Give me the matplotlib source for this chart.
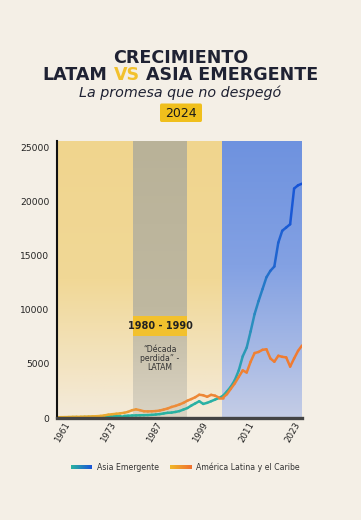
import numpy as np
import matplotlib
matplotlib.use('Agg')
import matplotlib.pyplot as plt
from matplotlib.collections import LineCollection
from matplotlib.colors import LinearSegmentedColormap
from matplotlib.patches import Rectangle, FancyBboxPatch
import matplotlib.transforms as mtransforms

# ---------------- data ----------------
years = np.arange(1961, 2024)
asia = [60, 60, 65, 70, 75, 80, 80, 85, 90, 100,
        110, 120, 140, 160, 170, 180, 200, 200, 210, 230,
        240, 250, 260, 270, 290, 320, 360, 420, 480, 500,
        560, 640, 780, 920, 1150, 1350, 1550, 1300, 1400, 1550,
        1700, 1850, 2050, 2450, 2900, 3500, 4400, 5700, 6500, 8000,
        9600, 10800, 11900, 13000, 13600, 14000, 16200, 17300, 17600, 17900,
        21200, 21500, 21650]
latam = [70, 75, 80, 90, 100, 105, 110, 120, 130, 150,
         165, 190, 240, 310, 350, 390, 430, 480, 570, 720,
         800, 720, 620, 610, 620, 640, 690, 780, 880, 1020,
         1120, 1250, 1400, 1600, 1750, 1920, 2150, 2100, 1960, 2140,
         2060, 1880, 1880, 2200, 2700, 3200, 3800, 4400, 4200, 5200,
         6000, 6100, 6300, 6350, 5500, 5200, 5750, 5650, 5600, 4750,
         5500, 6200, 6700]
series_names = ['Asia Emergente', 'América Latina y el Caribe']
x_tick_labels = ['1961', '1973', '1987', '1999', '2011', '2023']
y_ticks = [0, 5000, 10000, 15000, 20000, 25000]
band_edges = [1961, 1980.2, 1993.9, 2002.8, 2023]
band_label = '1980 - 1990'
band_note = '“Década\nperdida” -\nLATAM'

# ---------------- style ----------------
W, H = 361, 520
BG = '#f4efe6'
NAVY = '#1f2233'
YELLOW = '#f2c12e'
FONT = 'DejaVu Sans'

def fx(x):
    return x / W

def fy(y):
    return 1 - y / H

fig = plt.figure(figsize=(W / 100, H / 100), dpi=100)
fig.patch.set_facecolor(BG)

# ---------------- titles ----------------
title_size = 12.6
fig.text(0.5, fy(63), 'CRECIMIENTO', ha='center', va='baseline',
         fontsize=title_size, fontweight='bold', color=NAVY, family=FONT)

renderer = fig.canvas.get_renderer()
line2 = 'LATAM VS ASIA EMERGENTE'
probe = fig.text(0, 0, line2, fontsize=title_size, fontweight='bold', family=FONT)
def width_of(s):
    probe.set_text(s)
    return probe.get_window_extent(renderer).width
w_full = width_of(line2)
w_a = width_of('LATAM VS')
w_vs = width_of('VS')
w_rest = width_of('ASIA EMERGENTE')
probe.remove()
left = (W - w_full) / 2
for txt, xoff, col in [('LATAM', 0, NAVY), ('VS', w_a - w_vs, YELLOW),
                       ('ASIA EMERGENTE', w_full - w_rest, NAVY)]:
    fig.text(fx(left + xoff), fy(80.3), txt, ha='left', va='baseline',
             fontsize=title_size, fontweight='bold', color=col, family=FONT)

fig.text(0.5, fy(97.3), 'La promesa que no despegó', ha='center', va='baseline',
         fontsize=10.3, style='italic', color=NAVY, family=FONT)

box = FancyBboxPatch((fx(160), fy(122)), fx(42), (122 - 103.5) / H,
                     boxstyle='round,pad=0,rounding_size=0.004',
                     transform=fig.transFigure, facecolor='#f0bf1c', edgecolor='none')
fig.patches.append(box)
fig.text(fx(181), fy(117.3), '2024', ha='center', va='baseline', fontsize=9,
         color='#1a1a1a', family=FONT)

# ---------------- axes ----------------
ax = fig.add_axes([fx(57), fy(418), fx(245), (418 - 140.7) / H])
ax.set_facecolor(BG)
ymax = 25620
ax.set_xlim(years[0], years[-1])
ax.set_ylim(0, ymax)

band_stops = [
    [(0, '#f0d58e'), (0.5, '#f1d896'), (0.82, '#f3e4c2'), (1, '#f3ebdc')],
    [(0, '#b9b298'), (0.6, '#bfb8a0'), (1, '#dbd4c4')],
    [(0, '#f0d58e'), (0.5, '#f1d896'), (0.82, '#f3e4c2'), (1, '#f3ebdc')],
    [(0, '#6e92df'), (0.45, '#83a1e3'), (0.8, '#abbce5'), (1, '#c5cde6')],
]
n = 256
for i, stops in enumerate(band_stops):
    cm = LinearSegmentedColormap.from_list('b%d' % i, stops)
    grad = cm(np.linspace(0, 1, n))[:, None, :3]
    ax.imshow(grad, extent=(band_edges[i], band_edges[i + 1], 0, ymax),
              aspect='auto', origin='upper', zorder=0, interpolation='bilinear')

# band label
trans = mtransforms.blended_transform_factory(ax.transData, ax.transAxes)
ax.add_patch(Rectangle((band_edges[1], 0.296), band_edges[2] - band_edges[1], 0.072,
                       transform=trans, facecolor=YELLOW, edgecolor='none', zorder=2))
ax.text((band_edges[1] + band_edges[2]) / 2, 0.331, band_label, transform=trans,
        ha='center', va='center', fontsize=7, fontweight='bold', color='#222222',
        family=FONT, zorder=3)
ax.text((band_edges[1] + band_edges[2]) / 2, 0.215, band_note, transform=trans,
        ha='center', va='center', fontsize=5.6, color='#333333', linespacing=1.05,
        family=FONT, zorder=3)

# lines with gradients
asia_cmap = LinearSegmentedColormap.from_list('asia', [
    (0, '#27b59b'), (0.7, '#2ab0a6'), (0.8, '#2a8fbe'), (0.88, '#2168cf'), (1, '#1550d8')])
latam_cmap = LinearSegmentedColormap.from_list('latam', [
    (0, '#e8b02a'), (0.25, '#eaa830'), (0.35, '#ec903a'), (1, '#f07a30')])

def grad_line(yvals, cmap, z):
    pts = np.column_stack([years, np.asarray(yvals, float)])
    segs = np.stack([pts[:-1], pts[1:]], axis=1)
    t = (years[:-1] + 0.5 - years[0]) / (years[-1] - years[0])
    lc = LineCollection(segs, colors=cmap(t), linewidths=1.8, capstyle='round',
                        joinstyle='round', zorder=z)
    ax.add_collection(lc)

grad_line(asia, asia_cmap, 4)
grad_line(latam, latam_cmap, 5)

# axes styling
for s in ['top', 'right']:
    ax.spines[s].set_visible(False)
ax.spines['left'].set_color('#111111')
ax.spines['left'].set_linewidth(1.5)
ax.spines['bottom'].set_color('#444444')
ax.spines['bottom'].set_linewidth(2.4)
ax.spines['left'].set_zorder(6)
ax.spines['bottom'].set_zorder(6)

ax.set_yticks(y_ticks)
ax.set_yticklabels([str(v) for v in y_ticks], family=FONT, fontsize=6.6, color='#222222')
ax.tick_params(axis='y', length=0, pad=5.5)

xt = np.linspace(1962.3, 2020.6, len(x_tick_labels))
ax.set_xticks(xt)
ax.set_xticklabels(x_tick_labels, rotation=60, ha='center', family=FONT,
                   fontsize=6.2, color='#222222')
ax.tick_params(axis='x', length=0, pad=2)

# ---------------- legend ----------------
leg_y = 467
def legend_patch(x0, x1, cols):
    lax = fig.add_axes([fx(x0), fy(leg_y + 2.2), fx(x1 - x0), 4.4 / H])
    cm = LinearSegmentedColormap.from_list('lg', cols)
    lax.imshow(cm(np.linspace(0, 1, 64))[None, :, :3], aspect='auto',
               extent=(0, 1, 0, 1))
    lax.set_axis_off()

legend_patch(71, 92, ['#2ab3a0', '#1a55d8'])
fig.text(fx(97), fy(leg_y), series_names[0], ha='left', va='center', fontsize=5.6,
         color='#333333', family=FONT)
legend_patch(170, 192, ['#f0b828', '#f07030'])
fig.text(fx(196), fy(leg_y), series_names[1], ha='left', va='center', fontsize=5.6,
         color='#333333', family=FONT)

fig.savefig('out.png', dpi=100, facecolor=BG)
